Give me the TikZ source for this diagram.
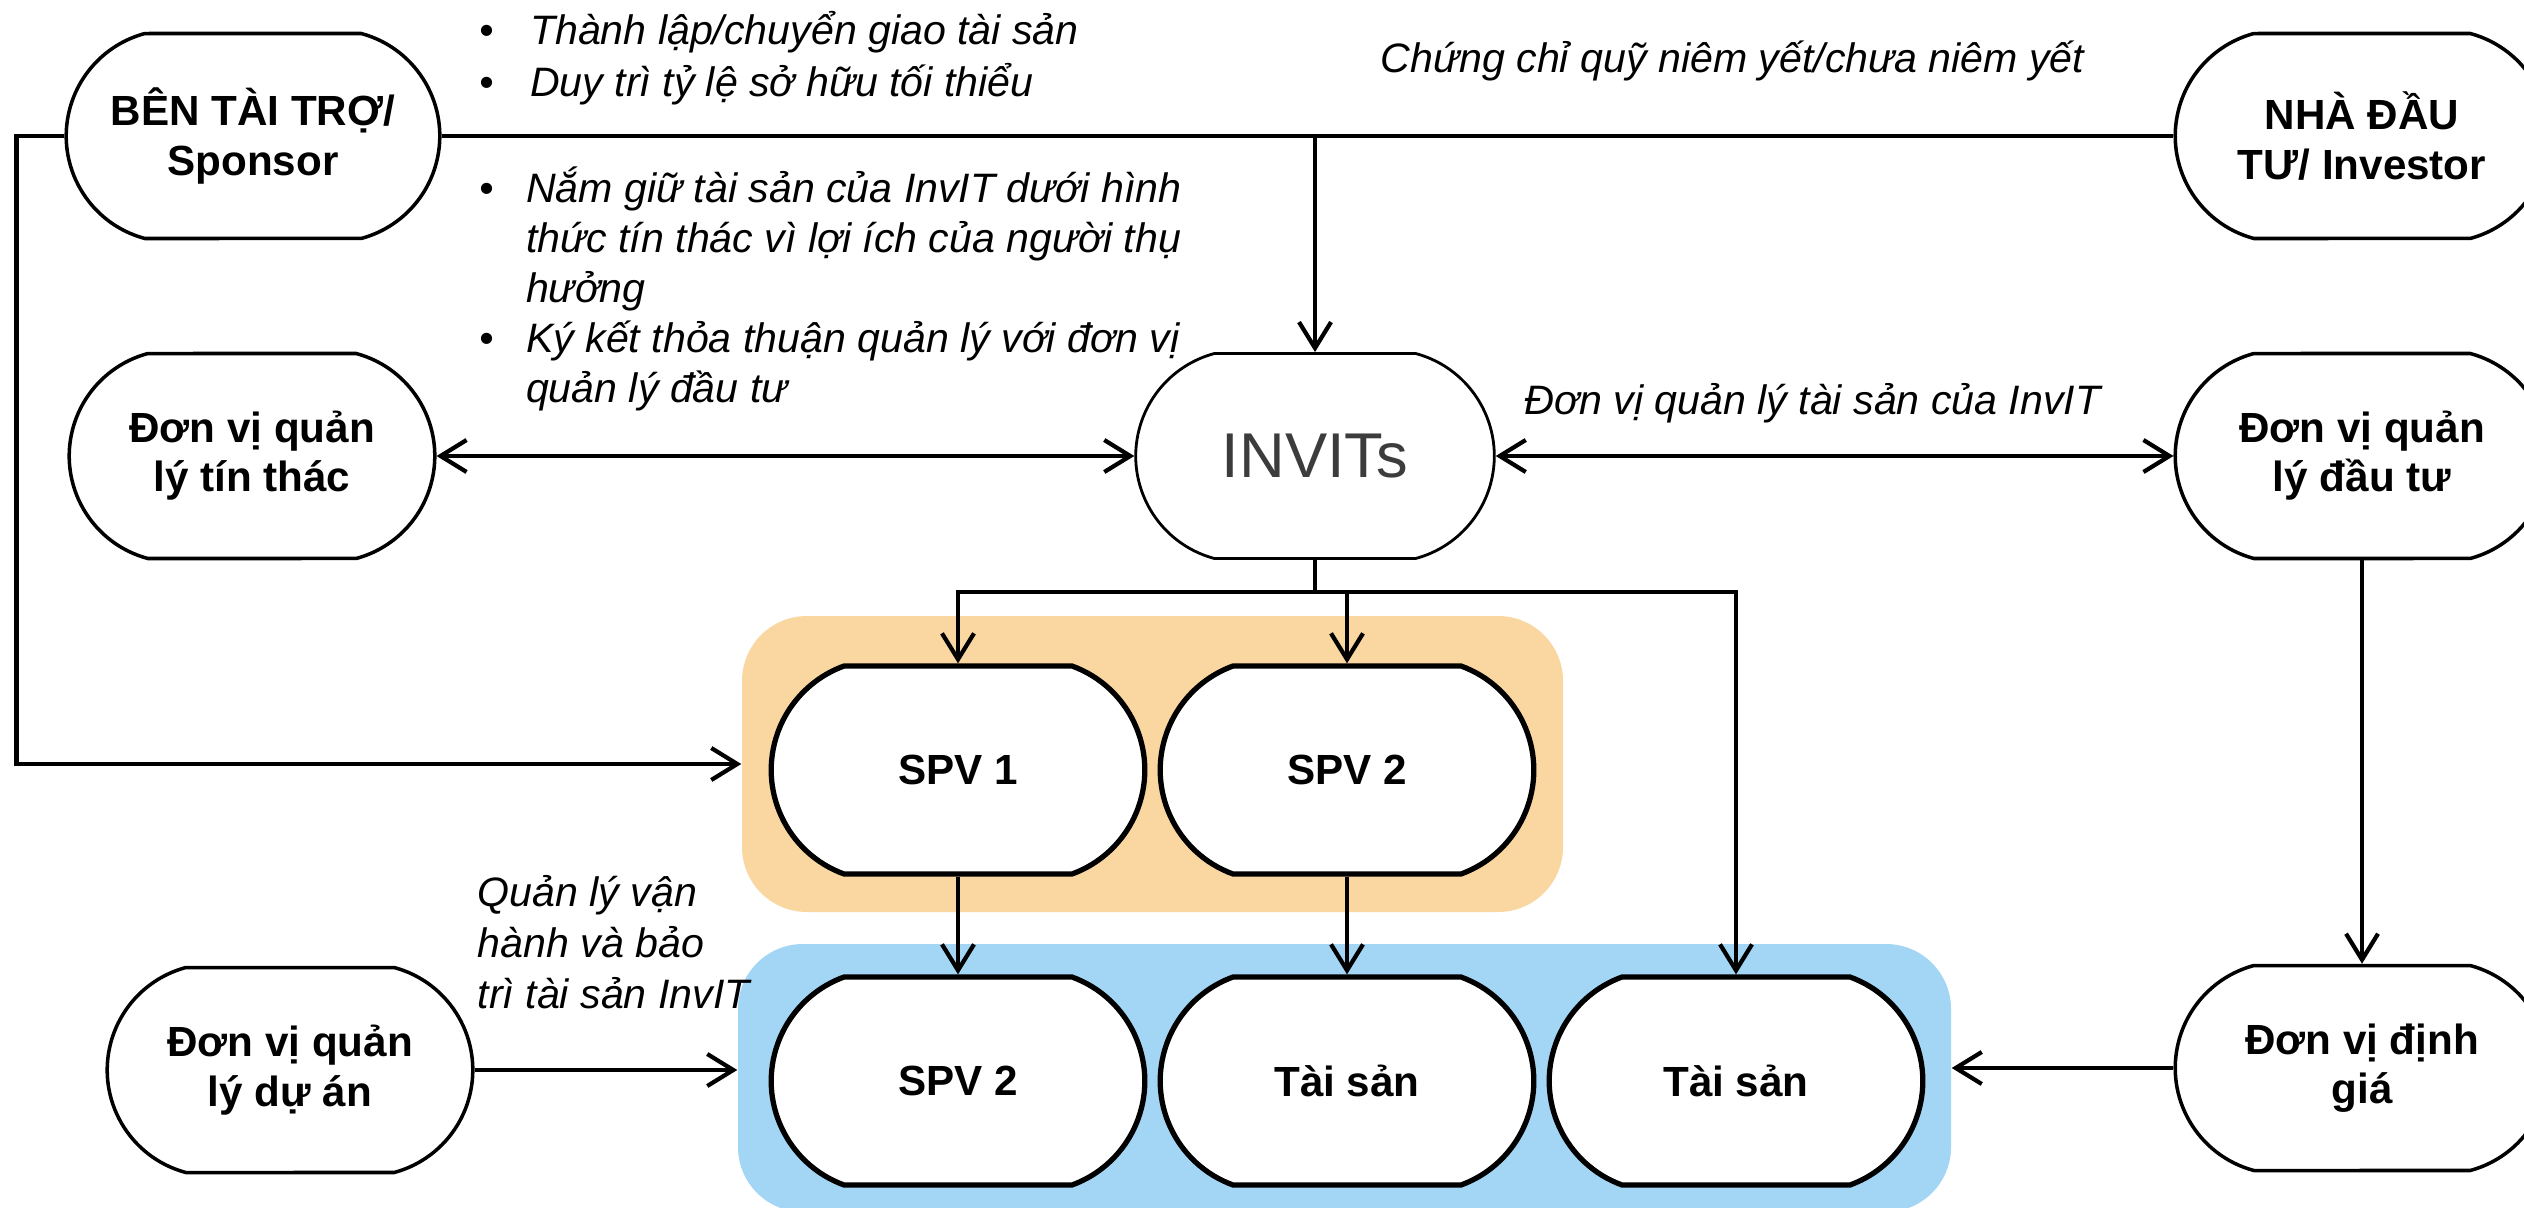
\documentclass[tikz,border=0pt]{standalone}
\usepackage{fontspec}
\setmainfont{Liberation Sans}
\usetikzlibrary{arrows.meta,shapes.misc}
\definecolor{spvorange}{HTML}{FAD6A0}
\definecolor{assetblue}{HTML}{A3D6F5}
\definecolor{invgray}{HTML}{3C3C3C}

\begin{document}
\begin{tikzpicture}[
    box/.style={draw=black, line width=1pt, fill=white, rounded rectangle,
        rounded rectangle arc length=150,
        minimum width=3.97cm, minimum height=2.05cm, align=center,
        font=\fontsize{12}{14}\selectfont\bfseries},
    spvbox/.style={box, line width=1.5pt, minimum height=2.08cm, rounded rectangle arc length=140},
    group/.style={draw=none, rounded corners=0.65cm},
    lbl/.style={inner sep=0pt, font=\fontsize{11.7}{14.6}\selectfont\itshape},
    plain/.style={line width=1.2pt},
    link/.style={line width=1.2pt, -{Straight Barb[length=2.6mm,width=3.2mm]}},
    dlink/.style={line width=1.2pt, {Straight Barb[length=2.6mm,width=3.2mm]}-{Straight Barb[length=2.6mm,width=3.2mm]}}
]
\useasboundingbox (0,0) rectangle (25.24,-12.07);
\clip (0,0) rectangle (25.24,-12.07);

% coloured groups
\node[group, fill=spvorange, minimum width=8.21cm, minimum height=2.96cm] (spvgrp) at (11.525,-7.64) {};
\node[group, fill=assetblue, minimum width=12.13cm, minimum height=2.68cm] (assetgrp) at (13.445,-10.78) {};

% left column
\node[box] (sponsor) at (2.53,-1.36) {BÊN TÀI TRỢ/\\Sponsor};
\node[box, minimum width=3.89cm] (trustee) at (2.52,-4.56) {Đơn vị quản\\lý tín thác};
\node[box, minimum width=3.89cm] (projmgr) at (2.90,-10.70) {Đơn vị quản\\lý dự án};

% right column
\node[box] (investor) at (23.62,-1.36) {NHÀ ĐẦU\\TƯ/ Investor};
\node[box] (invmgr) at (23.62,-4.56) {Đơn vị quản\\lý đầu tư};
\node[box] (valuer) at (23.62,-10.68) {Đơn vị định\\giá};

% trust
\node[box, line width=0.8pt, minimum width=3.82cm, font=\fontsize{18}{20}\selectfont, text=invgray] (invits) at (13.15,-4.56) {INVITs};

% SPVs and assets
\node[spvbox] (spva) at (9.58,-7.70) {SPV 1};
\node[spvbox] (spvb) at (13.47,-7.70) {SPV 2};
\node[spvbox] (spvc) at (9.58,-10.81) {SPV 2};
\node[spvbox] (asseta) at (13.47,-10.81) {Tài sản};
\node[spvbox] (assetb) at (17.36,-10.81) {Tài sản};

% connectors
\draw[plain] (sponsor.east) -- (investor.west);
\draw[link] (invits.north |- sponsor.east) -- (invits.north);
\draw[link] (sponsor.west) -- ++(-0.48,0) |- (spvgrp.west);
\draw[dlink] (trustee.east) -- (invits.west);
\draw[dlink] (invits.east) -- (invmgr.west);
\draw[plain] (invits.south) -- ++(0,-0.32) coordinate (fork);
\draw[link] (fork) -| (spva.north);
\draw[link] (fork) -| (spvb.north);
\draw[link] (fork) -| (assetb.north);
\draw[link] (spva.south) -- (spvc.north);
\draw[link] (spvb.south) -- (asseta.north);
\draw[link] (projmgr.east) -- (projmgr.east -| assetgrp.west);
\draw[link] (valuer.west) -- (valuer.west -| assetgrp.east);
\draw[link] (invmgr.south) -- (valuer.north);

% labels
\node[lbl, anchor=base west] (sponsornote) at (4.79,-0.45) {\begin{tabular}[t]{@{}l@{\hspace{3.6mm}}l@{}}
\textbullet & Thành lập/chuyển giao tài sản\\
\textbullet & Duy trì tỷ lệ sở hữu tối thiểu
\end{tabular}};
\node[lbl, anchor=base west, font=\fontsize{11.7}{14.2}\selectfont\itshape] (trustnote) at (4.79,-2.03) {\begin{tabular}[t]{@{}l@{\hspace{3.2mm}}l@{}}
\textbullet & Nắm giữ tài sản của InvIT dưới hình\\
 & thức tín thác vì lợi ích của người thụ\\
 & hưởng\\
\textbullet & Ký kết thỏa thuận quản lý với đơn vị\\
 & quản lý đầu tư
\end{tabular}};
\node[lbl, anchor=base west] (unitnote) at (13.80,-0.73) {Chứng chỉ quỹ niêm yết/chưa niêm yết};
\node[lbl, anchor=base west] (assetnote) at (15.24,-4.14) {Đơn vị quản lý tài sản của InvIT};
\node[lbl, anchor=base west] (opsnote) at (4.77,-9.06) {\begin{tabular}[t]{@{}l@{}}
Quản lý vận\\
hành và bảo\\
trì tài sản InvIT
\end{tabular}};
\end{tikzpicture}
\end{document}
